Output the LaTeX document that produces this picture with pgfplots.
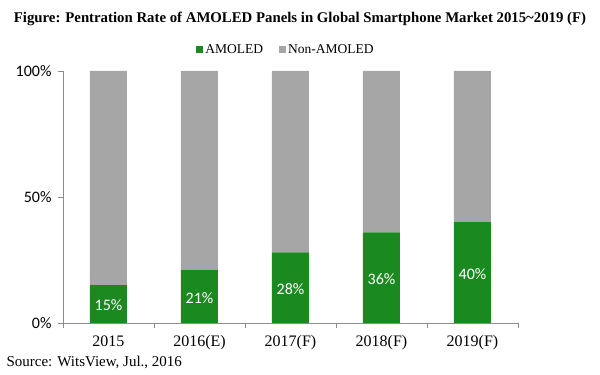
\documentclass[border=0pt]{standalone}
\usepackage{pgfplots}
\pgfplotsset{compat=1.18}
\usepackage{fontspec}
\setmainfont{Liberation Serif}
\newfontfamily\carlito{Carlito}
\definecolor{amoled}{HTML}{1A8A20}
\definecolor{nonam}{HTML}{A6A6A6}
\definecolor{axgray}{HTML}{8C8C8C}
\pgfplotsset{geom/.style={at={(63pt,52pt)}, anchor=south west,
  scale only axis, width=455pt, height=252pt,
  xmin=-0.5, xmax=4.5, ymin=0, ymax=100}}
\begin{document}
\begin{tikzpicture}[x=1pt,y=1pt]
\path[use as bounding box] (0,0) rectangle (600,375);
\node[font=\bfseries\fontsize{14.8}{17}\selectfont] at (300,356) {Figure: Pentration Rate of AMOLED Panels in Global Smartphone Market 2015\textasciitilde 2019 (F)};
\node[anchor=west,font=\fontsize{15}{17}\selectfont] at (3,13) {Source: WitsView, Jul., 2016};
\begin{axis}[
  geom,
  ybar stacked, bar width=37pt,
  axis lines*=left,
  axis line style={axgray, line width=0.8pt},
  xtick={0,1,2,3,4},
  xticklabels={2015,2016(E),2017(F),2018(F),2019(F)},
  major x tick style={draw=none},
  minor xtick={-0.5,0.5,1.5,2.5,3.5,4.5},
  minor x tick style={axgray, line width=0.8pt},
  minor tick length=5pt,
  ytick={0,50,100},
  yticklabels={0\%,50\%,100\%},
  y tick style={axgray, line width=0.8pt},
  major tick length=5pt,
  tick align=outside,
  xticklabel style={font=\fontsize{16}{18}\selectfont, yshift=-4pt},
  yticklabel style={font=\carlito\fontsize{16}{18}\selectfont, xshift=-3pt},
  legend style={at={(axis description cs:0.49,1)}, anchor=center, yshift=21pt, draw=none, fill=none,
    legend columns=2, font=\fontsize{13.5}{15}\selectfont,
    /tikz/every even column/.append style={column sep=14pt}},
  legend image code/.code={\fill[#1] (0pt,-3.5pt) rectangle (7pt,3.5pt);},
]
\addplot[fill=amoled, draw=none]
  coordinates {(0,15) (1,21) (2,28) (3,36) (4,40)};
\addlegendentry{AMOLED}
\addplot[fill=nonam, draw=none]
  coordinates {(0,85) (1,79) (2,72) (3,64) (4,60)};
\addlegendentry{Non-AMOLED}
\end{axis}
\begin{axis}[geom, hide axis]
\addplot[draw=none, mark=none, point meta=explicit,
  nodes near coords={\carlito\fontsize{16}{18}\selectfont\pgfmathprintnumber[assume math mode=true]{\pgfplotspointmeta}\%},
  every node near coord/.append style={text=white, anchor=center, yshift=-1.5pt}]
  coordinates {(0,7.5) [15] (1,10.5) [21] (2,14) [28] (3,18) [36] (4,20) [40]};
\end{axis}
\end{tikzpicture}
\end{document}
